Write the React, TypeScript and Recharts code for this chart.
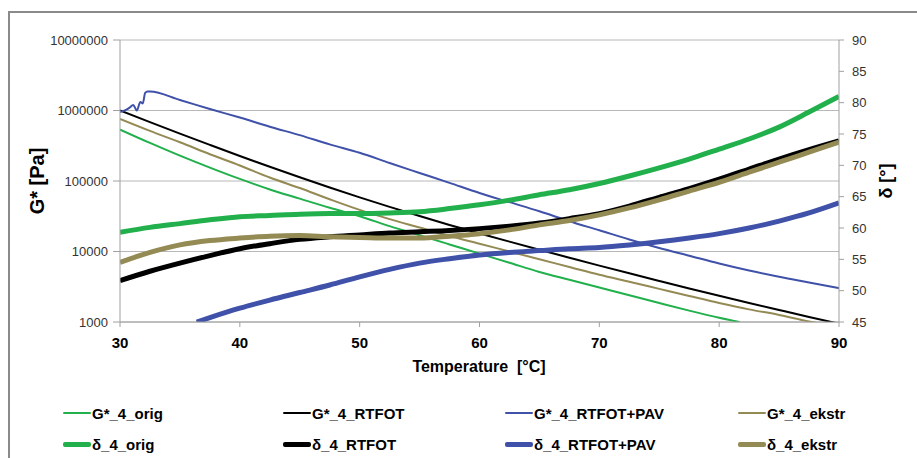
import React from 'react';
import { LineChart, Line, XAxis, YAxis, CartesianGrid, Legend } from 'recharts';

// temperature grid [°C]
const temps = [30, 32.5, 35, 37.5, 40, 42.5, 45, 47.5, 50, 52.5, 55, 57.5, 60, 62.5, 65, 67.5, 70, 72.5, 75, 77.5, 80, 82.5, 85, 87.5, 90];

// G* [Pa]
const gOrig = [537000, 347000, 229000, 155000, 107000, 75900, 56200, 41700, 31600, 22900, 17000, 12600, 9330, 6920, 5130, 3980, 3090, 2400, 1860, 1450, 1150, null, null, null, null];
const gOrigEndT = [81.7];
const gOrigEndV = [1000];
const gRtfot = [1000000, 684000, 470000, 325000, 226000, 159000, 113000, 80900, 58500, 42900, 31800, 23800, 18100, 13800, 10600, 8170, 6310, 4900, 3820, 2990, 2360, 1860, 1480, 1180, 946];
const gPav = [955000, 1860000, 1410000, 1050000, 794000, 589000, 447000, 331000, 251000, 180000, 130000, 94000, 67600, 50100, 37200, 26900, 20000, 14800, 11200, 8710, 6760, 5370, 4370, 3630, 3020];
const gPavStartT = [30.5, 30.8, 31.1, 31.4, 31.7, 31.9, 32.1, 32.3];
const gPavStartV = [1020000, 1100000, 1200000, 1000000, 1320000, 1260000, 1780000, 1860000];
const gEkstr = [759000, 513000, 355000, 240000, 166000, 112000, 79400, 55000, 38900, 28800, 21900, 16600, 12900, 10000, 7760, 6030, 4680, 3720, 2950, 2340, 1860, 1510, 1260, 1020, 851];

// δ [°]
const dOrig = [59.3, 60.1, 60.7, 61.3, 61.8, 62.0, 62.2, 62.3, 62.3, 62.4, 62.6, 63.1, 63.7, 64.45, 65.3, 66.1, 67.1, 68.3, 69.6, 71.0, 72.6, 74.2, 76.1, 78.5, 81.0];
const dRtfot = [51.6, 53.1, 54.4, 55.6, 56.7, 57.5, 58.2, 58.6, 58.9, 59.2, 59.4, 59.6, 59.9, 60.3, 60.8, 61.5, 62.3, 63.5, 64.9, 66.3, 67.8, 69.4, 71.0, 72.5, 73.9];
const dPav = [null, null, null, 45.7, 47.2, 48.5, 49.7, 50.9, 52.2, 53.4, 54.4, 55.1, 55.7, 56.1, 56.4, 56.7, 56.9, 57.3, 57.8, 58.4, 59.1, 60.0, 61.1, 62.4, 64.0];
const dPavStartT = [36.4];
const dPavStartV = [45.0];
const dEkstr = [54.5, 56.1, 57.3, 58.0, 58.4, 58.7, 58.8, 58.6, 58.5, 58.4, 58.4, 58.7, 59.1, 59.7, 60.5, 61.2, 62.1, 63.2, 64.5, 65.9, 67.3, 68.9, 70.5, 72.1, 73.7];

const xTicks = [30, 40, 50, 60, 70, 80, 90];
const gTicks = [1000, 10000, 100000, 1000000, 10000000];
const dTicks = [45, 50, 55, 60, 65, 70, 75, 80, 85, 90];

const GREEN = '#21b04b';
const BLUE = '#3f51a8';
const TAN = '#948a54';
const BLACK = '#000000';

function toPoints(values: (number | null)[], extraT: number[] = [], extraV: number[] = []) {
  const pts: { t: number; v: number }[] = [];
  temps.forEach((t, i) => {
    if (values[i] != null) pts.push({ t, v: values[i] as number });
  });
  extraT.forEach((t, i) => pts.push({ t, v: extraV[i] }));
  return pts.sort((a, b) => a.t - b.t);
}

const series = [
  { name: 'G*_4_orig', data: toPoints(gOrig, gOrigEndT, gOrigEndV), axis: 'g', color: GREEN, width: 2 },
  { name: 'G*_4_RTFOT', data: toPoints(gRtfot), axis: 'g', color: BLACK, width: 2 },
  { name: 'G*_4_RTFOT+PAV', data: toPoints(gPav, gPavStartT, gPavStartV), axis: 'g', color: BLUE, width: 2 },
  { name: 'G*_4_ekstr', data: toPoints(gEkstr), axis: 'g', color: TAN, width: 2 },
  { name: 'δ_4_orig', data: toPoints(dOrig), axis: 'd', color: GREEN, width: 5 },
  { name: 'δ_4_RTFOT', data: toPoints(dRtfot), axis: 'd', color: BLACK, width: 5 },
  { name: 'δ_4_RTFOT+PAV', data: toPoints(dPav, dPavStartT, dPavStartV), axis: 'd', color: BLUE, width: 5 },
  { name: 'δ_4_ekstr', data: toPoints(dEkstr), axis: 'd', color: TAN, width: 5 },
];

const legendCols = [63, 283, 505, 738];
const legendRows = [18, 49];

function ChartLegend() {
  return (
    <div style={{ position: 'relative', width: 917, height: 60 }}>
      {series.map((s, i) => {
        const col = i % 4;
        const row = Math.floor(i / 4);
        return (
          <div
            key={s.name}
            style={{
              position: 'absolute',
              left: legendCols[col],
              top: legendRows[row] - 10,
              height: 20,
              display: 'flex',
              alignItems: 'center',
              whiteSpace: 'nowrap',
            }}
          >
            <span style={{ display: 'inline-block', width: 28, height: s.width, background: s.color, borderRadius: 2 }} />
            <span style={{ fontSize: 15, fontWeight: 'bold', color: '#000', marginLeft: 1 }}>{s.name}</span>
          </div>
        );
      })}
    </div>
  );
}

export default function App() {
  return (
    <div
      style={{
        position: 'absolute',
        left: 0,
        top: 0,
        width: 917,
        height: 458,
        overflow: 'hidden',
        background: '#fff',
        fontFamily: '"Liberation Sans", Arial, sans-serif',
      }}
    >
      <div
        style={{
          position: 'absolute',
          left: 8,
          top: 11,
          width: 1000,
          height: 1000,
          borderLeft: '2px solid #8a8a8a',
          borderTop: '2px solid #8a8a8a',
        }}
      />
      <LineChart width={917} height={458} margin={{ top: 40, right: 20, bottom: 76, left: 20 }}>
        <CartesianGrid yAxisId="g" vertical={false} stroke="#b8b8b8" strokeWidth={1} />
        <XAxis
          type="number"
          dataKey="t"
          domain={[30, 90]}
          ticks={xTicks}
          allowDataOverflow
          height={60}
          tickSize={5}
          tickMargin={10}
          stroke="#a0a0a0"
          tick={{ fontSize: 15, fontWeight: 'bold', fill: '#000' }}
          label={{
            content: () => (
              <text x={479} y={366} textAnchor="middle" dominantBaseline="central" fontSize={16} fontWeight="bold" fill="#000">
                {'Temperature\u00a0 [°C]'}
              </text>
            ),
          }}
        />
        <YAxis
          yAxisId="g"
          orientation="left"
          scale="log"
          type="number"
          domain={[1000, 10000000]}
          ticks={gTicks}
          allowDataOverflow
          width={100}
          tickSize={7}
          tickMargin={5}
          stroke="#a0a0a0"
          tick={{ fontSize: 13, fill: '#333' }}
          tickFormatter={(v: number) => String(v)}
          label={{
            content: () => (
              <text x={37} y={181} transform="rotate(-90 37 181)" textAnchor="middle" dominantBaseline="central" fontSize={20} fontWeight="bold" fill="#000">
                G* [Pa]
              </text>
            ),
          }}
        />
        <YAxis
          yAxisId="d"
          orientation="right"
          type="number"
          domain={[45, 90]}
          ticks={dTicks}
          allowDataOverflow
          width={58}
          tickSize={5}
          tickMargin={8}
          stroke="#a0a0a0"
          tick={{ fontSize: 13, fill: '#333' }}
          label={{
            content: () => (
              <text x={886} y={181} transform="rotate(-90 886 181)" textAnchor="middle" dominantBaseline="central" fontSize={18} fontWeight="bold" fill="#000">
                δ [°]
              </text>
            ),
          }}
        />
        {series.map((s) => (
          <Line
            key={s.name}
            name={s.name}
            data={s.data}
            dataKey="v"
            yAxisId={s.axis}
            type="monotone"
            stroke={s.color}
            strokeWidth={s.width}
            dot={false}
            activeDot={false}
            isAnimationActive={false}
          />
        ))}
        <Legend
          layout="horizontal"
          verticalAlign="middle"
          align="center"
          wrapperStyle={{ top: 395, left: 0, width: 917, height: 60 }}
          content={() => <ChartLegend />}
        />
      </LineChart>
    </div>
  );
}
